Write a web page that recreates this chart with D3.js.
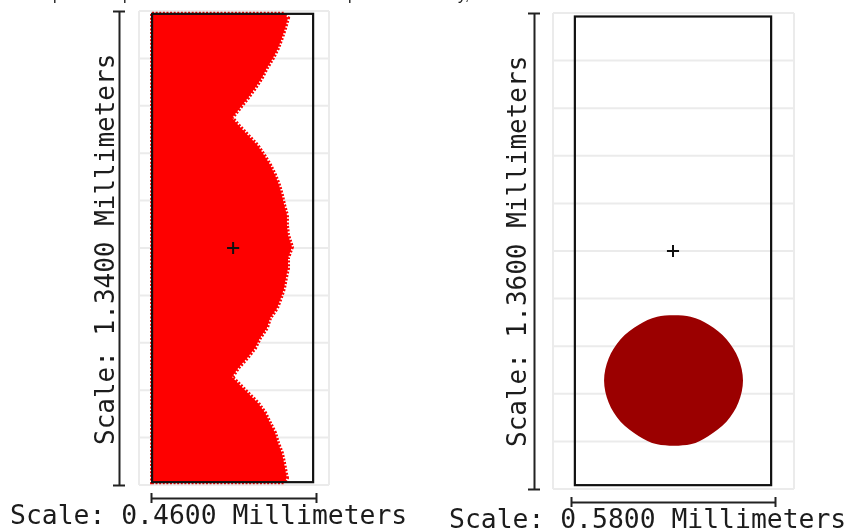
<!DOCTYPE html>
<html>
<head>
<meta charset="utf-8">
<script src="https://cdn.jsdelivr.net/npm/d3@7"></script>
<style>
body{margin:0;background:#fff}
svg{display:block;filter:blur(0.35px)}
text{font-family:"DejaVu Sans Mono";font-size:26px;fill:#1c1c1c}
</style>
</head>
<body>
<div id="chart"></div>
<script>
// values are millimeters
var widthLeft = 0.46
var heightLeft = 1.34
var widthRight = 0.58
var heightRight = 1.36

var labelsLeft = ["Scale: 0.4600 Millimeters","Scale: 1.3400 Millimeters"]
var labelsRight = ["Scale: 0.5800 Millimeters","Scale: 1.3600 Millimeters"]

// left panel, right hand edge of the red area row by row
var edgeY = [1.332,1.32,1.292,1.264,1.235,1.207,1.179,1.151,1.122,1.094,1.066,1.038,1.018,.989,.961,.933,.905,.876,.848,.82,.792,.763,.735,.707,.673,.642,.613,.585,.557,.529,.5,.472,.444,.416,.387,.359,.331,.305,.288,.26,.232,.204,.175,.147,.119,.09,.062,.034,.02,.008]
var edgeX = [.371,.382,.374,.365,.354,.34,.323,.309,.29,.27,.248,.226,.243,.27,.296,.315,.332,.346,.357,.365,.371,.379,.379,.382,.393,.382,.382,.376,.371,.362,.351,.332,.323,.304,.29,.268,.243,.226,.243,.27,.298,.318,.332,.346,.354,.365,.371,.376,.379,.371]

// right panel, outline of the dark blob
var blobX = [.245,.340,.392,.442,.476,.489,.476,.442,.390,.340,.245,.193,.141,.107,.094,.107,.141,.193]
var blobY = [.492,.492,.469,.428,.373,.31,.247,.192,.151,.128,.128,.151,.192,.247,.31,.373,.428,.469]

var centerLeft = [.229,.67]
var centerRight = [.29,.68]

var boxLeft = [.003,.452,.008,1.332]
var boxRight = [.011,.569,.011,1.35]

var gridLeft = [0,.134,.268,.402,.536,.67,.804,.938,1.072,1.206,1.34]
var gridRight = [0,.136,.272,.408,.544,.68,.816,.952,1.088,1.224,1.36]

var svg = d3.select("#chart")
	.append("svg").attr("width",846).attr("height",531)

var xLeft = d3.scaleLinear().domain([0,widthLeft]).range([151,316])
var yLeft = d3.scaleLinear().domain([0,heightLeft]).range([485,11])
var xRight = d3.scaleLinear().domain([0,widthRight]).range([571,775])
var yRight = d3.scaleLinear().domain([0,heightRight]).range([489,13])

drawFrame(xLeft,yLeft,gridLeft,12,13)
drawFrame(xRight,yRight,gridRight,18,19)

// red area, the dashed outline stands in for the rim of + markers
var edge = edgeY.map(function(d,i){return [edgeX[i],d]})
var area = [[boxLeft[0],boxLeft[3]]].concat(edge).concat([[boxLeft[0],boxLeft[2]]])
var areaLine = d3.line()
	.x(function(d){return xLeft(d[0])})
	.y(function(d){return yLeft(d[1])})

svg.append("path")
	.attr("d",areaLine(area)+"Z")
	.attr("fill","#fe0000")
	.attr("stroke","#fe0000")
	.attr("stroke-width",4)
	.attr("stroke-dasharray","2 1.6")

var blob = blobX.map(function(d,i){return [d,blobY[i]]})
var blobLine = d3.line()
	.x(function(d){return xRight(d[0])})
	.y(function(d){return yRight(d[1])})
	.curve(d3.curveCatmullRomClosed.alpha(0.5))

svg.append("path")
	.attr("d",blobLine(blob))
	.attr("fill","#9b0000")

drawBox(xLeft,yLeft,boxLeft,centerLeft)
drawBox(xRight,yRight,boxRight,centerRight)

drawRuler(xLeft,yLeft,119,498,labelsLeft,10,524,114)
drawRuler(xRight,yRight,534,502,labelsRight,449,528,526)

// what is left of the cropped line above the charts
var cropped = [["p",53],["p",123],["p",348],["y,",458]]
svg.selectAll(".cropped")
	.data(cropped)
	.enter()
	.append("text")
	.attr("class","cropped")
	.attr("x",function(d){return d[1]})
	.attr("y",0)
	.style("font-family","Liberation Sans")
	.style("font-size","16px")
	.text(function(d){return d[0]})

function drawFrame(x,y,grid,padLeft,padRight){
	var x0 = x.range()[0]-padLeft
	var x1 = x.range()[1]+padRight
	svg.append("g").selectAll("line")
		.data(grid)
		.enter()
		.append("line")
		.attr("x1",x0)
		.attr("x2",x1)
		.attr("y1",function(d){return y(d)})
		.attr("y2",function(d){return y(d)})
		.attr("stroke","#ebebeb")
		.attr("stroke-width",2)
	svg.append("g").selectAll("line")
		.data([x0,x1])
		.enter()
		.append("line")
		.attr("x1",function(d){return d})
		.attr("x2",function(d){return d})
		.attr("y1",y.range()[0])
		.attr("y2",y.range()[1])
		.attr("stroke","#ebebeb")
		.attr("stroke-width",2)
}

function drawBox(x,y,box,center){
	svg.append("rect")
		.attr("x",x(box[0]))
		.attr("y",y(box[3]))
		.attr("width",x(box[1])-x(box[0]))
		.attr("height",y(box[2])-y(box[3]))
		.attr("fill","none")
		.attr("stroke","#111")
		.attr("stroke-width",2.2)
	svg.append("path")
		.attr("transform","translate("+x(center[0])+","+y(center[1])+")")
		.attr("d",d3.symbol().type(d3.symbolPlus).size(50)())
		.attr("fill","none")
		.attr("stroke","#111")
		.attr("stroke-width",2)
}

function drawRuler(x,y,rulerX,rulerY,labels,labelX,labelY,labelBase){
	var axisX = d3.axisBottom(x).tickValues(x.domain()).tickFormat("").tickSize(5).tickSizeOuter(0)
	var axisY = d3.axisLeft(y).tickValues(y.domain()).tickFormat("").tickSize(6).tickSizeOuter(0)

	var gx = svg.append("g").attr("transform","translate(0,"+rulerY+")").call(axisX)
	gx.selectAll(".tick line").attr("y1",-5)
	var gy = svg.append("g").attr("transform","translate("+rulerX+",0)").call(axisY)
	gy.selectAll(".tick line").attr("x1",6)

	svg.selectAll(".domain,.tick line").attr("stroke","#222").attr("stroke-width",2)

	svg.append("text")
		.attr("x",labelX)
		.attr("y",labelY)
		.style("font-size","26.4px")
		.text(labels[0])
	svg.append("text")
		.attr("transform","translate("+labelBase+","+(y.range()[0]+(labelBase<200?-40:-42))+") rotate(-90)")
		.text(labels[1])
}
</script>
</body>
</html>
